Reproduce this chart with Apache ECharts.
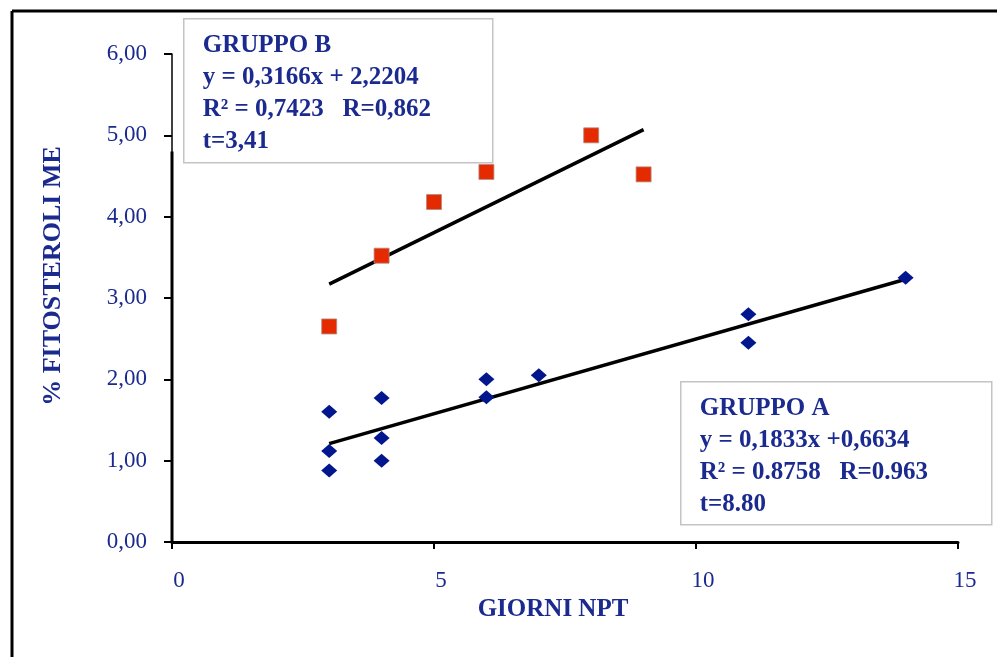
<!DOCTYPE html>
<html>
<head>
<meta charset="utf-8">
<script src="https://cdn.jsdelivr.net/npm/echarts@6/dist/echarts.min.js"></script>
<style>
  html, body { margin: 0; padding: 0; background: #fff; }
  #main { width: 997px; height: 657px; }
</style>
</head>
<body>
<div id="main"></div>
<script>
// gruppo A (rombi blu) e gruppo B (quadrati rossi): [giorni NPT, % fitosteroli ME]
var gruppoA = [
  [3, 1.60], [3, 1.12], [3, 0.88],
  [4, 1.77], [4, 1.28], [4, 1.00],
  [6, 2.00], [6, 1.78], [7, 2.05],
  [11, 2.80], [11, 2.45], [14, 3.25]
];
var gruppoB = [
  [3, 2.65], [4, 3.52], [5, 4.18], [6, 4.55], [8, 5.00], [9, 4.52]
];
// rette di regressione
var rettaA = [[3, 1.21], [14, 3.23]];
var rettaB = [[3, 3.17], [9, 5.07]];
// tratto spesso dell'asse y
var asseY = [[0, 0], [0, 4.8]];

var yTickLabels = ['0,00', '1,00', '2,00', '3,00', '4,00', '5,00', '6,00'];
var xTickLabels = ['0', '5', '10', '15'];

var testoB = ['GRUPPO B', 'y = 0,3166x + 2,2204', 'R\u00b2 = 0,7423   R=0,862', 't=3,41'];
var testoA = ['GRUPPO A', 'y = 0,1833x +0,6634', 'R\u00b2 = 0.8758   R=0.963', 't=8.80'];

var blu = '#1b2a8f';
var serif = '"Liberation Serif", "DejaVu Serif", serif';

var chart = echarts.init(document.getElementById('main'));

function box(x, y, w, h, lines) {
  return {
    type: 'group',
    left: x, top: y,
    z: 100,
    children: [
      { type: 'rect', shape: { x: 0, y: 0, width: w, height: h },
        style: { fill: '#fff', stroke: '#c4c4c4', lineWidth: 1.5 } },
      { type: 'text', x: 19, y: 11,
        style: { text: lines.join('\n'), fill: blu, font: 'bold 25px ' + serif,
                 lineHeight: 32, verticalAlign: 'top' } }
    ]
  };
}

option = {
  backgroundColor: '#fff',
  animation: false,
  grid: { left: 172, right: 39, top: 54, bottom: 115 },
  xAxis: {
    type: 'value', min: 0, max: 15, interval: 5,
    splitLine: { show: false },
    axisLine: { lineStyle: { color: '#000', width: 3 } },
    axisTick: { length: 7, lineStyle: { color: '#000', width: 2 } },
    axisLabel: {
      color: blu, fontFamily: serif, fontSize: 23, margin: 27,
      padding: [0, 0, 0, 14],
      formatter: function (v) { return xTickLabels[v / 5]; }
    },
    name: 'GIORNI NPT', nameLocation: 'middle', nameGap: 52,
    nameTextStyle: { color: blu, fontFamily: serif, fontWeight: 'bold', fontSize: 25, padding: [0, 24, 0, 0] }
  },
  yAxis: {
    type: 'value', min: 0, max: 6, interval: 1,
    splitLine: { show: false },
    axisLine: { lineStyle: { color: '#000', width: 1.5 } },
    axisTick: { length: 8, lineStyle: { color: '#000', width: 2 } },
    axisLabel: {
      color: blu, fontFamily: serif, fontSize: 23, margin: 25,
      formatter: function (v) { return yTickLabels[v]; }
    },
    name: '% FITOSTEROLI ME', nameLocation: 'middle', nameGap: 106,
    nameTextStyle: { color: blu, fontFamily: serif, fontWeight: 'bold', fontSize: 26, padding: [0, 0, 0, 44] }
  },
  series: [
    {
      name: 'asse', type: 'line', data: asseY, symbol: 'none', silent: true,
      lineStyle: { color: '#000', width: 3 }, z: 1
    },
    {
      name: 'retta B', type: 'line', data: rettaB, symbol: 'none',
      lineStyle: { color: '#000', width: 3.5 }, z: 2
    },
    {
      name: 'retta A', type: 'line', data: rettaA, symbol: 'none',
      lineStyle: { color: '#000', width: 3.5 }, z: 2
    },
    {
      name: 'Gruppo B', type: 'scatter', data: gruppoB, symbol: 'rect', symbolSize: 15,
      itemStyle: { color: '#e52a00', borderColor: '#b08a80', borderWidth: 0.8, opacity: 1 }, z: 3
    },
    {
      name: 'Gruppo A', type: 'scatter', data: gruppoA, symbol: 'diamond', symbolSize: [16, 14],
      itemStyle: { color: '#02168e', opacity: 1 }, z: 3
    }
  ],
  graphic: [
    { type: 'line', shape: { x1: 12, y1: 11, x2: 997, y2: 11 }, style: { stroke: '#000', lineWidth: 3 } },
    { type: 'line', shape: { x1: 12, y1: 11, x2: 12, y2: 657 }, style: { stroke: '#000', lineWidth: 3 } },
    box(183, 18, 309, 144, testoB),
    box(680, 381, 311, 143, testoA)
  ]
};
chart.setOption(option);
</script>
</body>
</html>
